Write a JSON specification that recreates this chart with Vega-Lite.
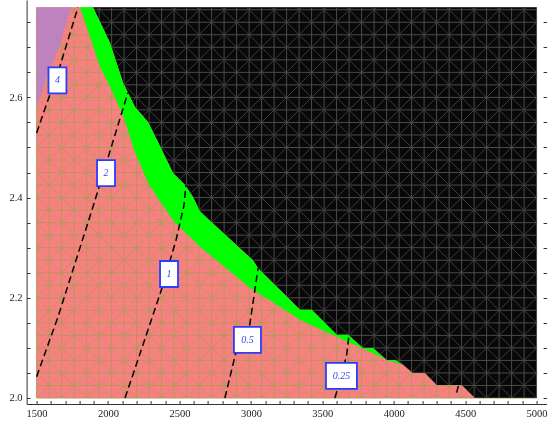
{
  "$schema": "https://vega.github.io/schema/vega-lite/v6.json",
  "width": 520,
  "height": 404,
  "autosize": "none",
  "padding": {"left": 26.6, "top": 0, "right": 2.4, "bottom": 20},
  "background": "white",
  "config": {
    "view": {"stroke": null},
    "axis": {
      "domainColor": "#333333",
      "domainWidth": 1,
      "tickColor": "#333333",
      "tickWidth": 1,
      "tickSize": -3.5,
      "labelFont": "Liberation Serif",
      "labelFontSize": 10.5,
      "labelColor": "#222222",
      "grid": false,
      "labelOverlap": false,
      "labelFlush": false
    }
  },
  "resolve": {"axis": {"y": "independent"}},
  "datasets": {
    "one": [{"k": 1}],
    "meshX": [{"x":1500},{"x":1587.5},{"x":1675},{"x":1762.5},{"x":1850},{"x":1937.5},{"x":2025},{"x":2112.5},{"x":2200},{"x":2287.5},{"x":2375},{"x":2462.5},{"x":2550},{"x":2637.5},{"x":2725},{"x":2812.5},{"x":2900},{"x":2987.5},{"x":3075},{"x":3162.5},{"x":3250},{"x":3337.5},{"x":3425},{"x":3512.5},{"x":3600},{"x":3687.5},{"x":3775},{"x":3862.5},{"x":3950},{"x":4037.5},{"x":4125},{"x":4212.5},{"x":4300},{"x":4387.5},{"x":4475},{"x":4562.5},{"x":4650},{"x":4737.5},{"x":4825},{"x":4912.5},{"x":5000}],
    "meshY": [{"y":2.0},{"y":2.025},{"y":2.05},{"y":2.075},{"y":2.1},{"y":2.125},{"y":2.15},{"y":2.175},{"y":2.2},{"y":2.225},{"y":2.25},{"y":2.275},{"y":2.3},{"y":2.325},{"y":2.35},{"y":2.375},{"y":2.4},{"y":2.425},{"y":2.45},{"y":2.475},{"y":2.5},{"y":2.525},{"y":2.55},{"y":2.575},{"y":2.6},{"y":2.625},{"y":2.65},{"y":2.675},{"y":2.7},{"y":2.725},{"y":2.75},{"y":2.775}],
    "meshD": [
      {"x":1500,"y":2.75,"x2":1605,"y2":2.78},{"x":1500,"y":2.7,"x2":1780,"y2":2.78},{"x":1500,"y":2.65,"x2":1955,"y2":2.78},{"x":1500,"y":2.6,"x2":2130,"y2":2.78},{"x":1500,"y":2.55,"x2":2305,"y2":2.78},{"x":1500,"y":2.5,"x2":2480,"y2":2.78},{"x":1500,"y":2.45,"x2":2655,"y2":2.78},{"x":1500,"y":2.4,"x2":2830,"y2":2.78},{"x":1500,"y":2.35,"x2":3005,"y2":2.78},{"x":1500,"y":2.3,"x2":3180,"y2":2.78},{"x":1500,"y":2.25,"x2":3355,"y2":2.78},{"x":1500,"y":2.2,"x2":3530,"y2":2.78},{"x":1500,"y":2.15,"x2":3705,"y2":2.78},{"x":1500,"y":2.1,"x2":3880,"y2":2.78},{"x":1500,"y":2.05,"x2":4055,"y2":2.78},
      {"x":1500,"y":2.0,"x2":4230,"y2":2.78},{"x":1675,"y":2.0,"x2":4405,"y2":2.78},{"x":1850,"y":2.0,"x2":4580,"y2":2.78},{"x":2025,"y":2.0,"x2":4755,"y2":2.78},{"x":2200,"y":2.0,"x2":4930,"y2":2.78},
      {"x":2375,"y":2.0,"x2":5000,"y2":2.75},{"x":2550,"y":2.0,"x2":5000,"y2":2.7},{"x":2725,"y":2.0,"x2":5000,"y2":2.65},{"x":2900,"y":2.0,"x2":5000,"y2":2.6},{"x":3075,"y":2.0,"x2":5000,"y2":2.55},{"x":3250,"y":2.0,"x2":5000,"y2":2.5},{"x":3425,"y":2.0,"x2":5000,"y2":2.45},{"x":3600,"y":2.0,"x2":5000,"y2":2.4},{"x":3775,"y":2.0,"x2":5000,"y2":2.35},{"x":3950,"y":2.0,"x2":5000,"y2":2.3},{"x":4125,"y":2.0,"x2":5000,"y2":2.25},{"x":4300,"y":2.0,"x2":5000,"y2":2.2},{"x":4475,"y":2.0,"x2":5000,"y2":2.15},{"x":4650,"y":2.0,"x2":5000,"y2":2.1},{"x":4825,"y":2.0,"x2":5000,"y2":2.05},
      {"x":1500,"y":2.05,"x2":1675,"y2":2.0},{"x":1500,"y":2.1,"x2":1850,"y2":2.0},{"x":1500,"y":2.15,"x2":2025,"y2":2.0},{"x":1500,"y":2.2,"x2":2200,"y2":2.0},{"x":1500,"y":2.25,"x2":2375,"y2":2.0},{"x":1500,"y":2.3,"x2":2550,"y2":2.0},{"x":1500,"y":2.35,"x2":2725,"y2":2.0},{"x":1500,"y":2.4,"x2":2900,"y2":2.0},{"x":1500,"y":2.45,"x2":3075,"y2":2.0},{"x":1500,"y":2.5,"x2":3250,"y2":2.0},{"x":1500,"y":2.55,"x2":3425,"y2":2.0},{"x":1500,"y":2.6,"x2":3600,"y2":2.0},{"x":1500,"y":2.65,"x2":3775,"y2":2.0},{"x":1500,"y":2.7,"x2":3950,"y2":2.0},{"x":1500,"y":2.75,"x2":4125,"y2":2.0},
      {"x":1570,"y":2.78,"x2":4300,"y2":2.0},{"x":1745,"y":2.78,"x2":4475,"y2":2.0},{"x":1920,"y":2.78,"x2":4650,"y2":2.0},{"x":2095,"y":2.78,"x2":4825,"y2":2.0},{"x":2270,"y":2.78,"x2":5000,"y2":2.0},
      {"x":2445,"y":2.78,"x2":5000,"y2":2.05},{"x":2620,"y":2.78,"x2":5000,"y2":2.1},{"x":2795,"y":2.78,"x2":5000,"y2":2.15},{"x":2970,"y":2.78,"x2":5000,"y2":2.2},{"x":3145,"y":2.78,"x2":5000,"y2":2.25},{"x":3320,"y":2.78,"x2":5000,"y2":2.3},{"x":3495,"y":2.78,"x2":5000,"y2":2.35},{"x":3670,"y":2.78,"x2":5000,"y2":2.4},{"x":3845,"y":2.78,"x2":5000,"y2":2.45},{"x":4020,"y":2.78,"x2":5000,"y2":2.5},{"x":4195,"y":2.78,"x2":5000,"y2":2.55},{"x":4370,"y":2.78,"x2":5000,"y2":2.6},{"x":4545,"y":2.78,"x2":5000,"y2":2.65},{"x":4720,"y":2.78,"x2":5000,"y2":2.7},{"x":4895,"y":2.78,"x2":5000,"y2":2.75}
    ],
    "black": [{"x":1895,"y":2.78},{"x":2014,"y":2.709},{"x":2105,"y":2.629},{"x":2189,"y":2.581},{"x":2280,"y":2.551},{"x":2343,"y":2.515},{"x":2455,"y":2.449},{"x":2539,"y":2.425},{"x":2595,"y":2.401},{"x":2644,"y":2.372},{"x":3015,"y":2.275},{"x":3050,"y":2.259},{"x":3344,"y":2.176},{"x":3426,"y":2.176},{"x":3601,"y":2.126},{"x":3680,"y":2.126},{"x":3785,"y":2.1},{"x":3855,"y":2.1},{"x":3951,"y":2.076},{"x":4010,"y":2.076},{"x":4067,"y":2.066},{"x":4135,"y":2.05},{"x":4219,"y":2.05},{"x":4301,"y":2.026},{"x":4476,"y":2.026},{"x":4569,"y":2.0},{"x":5000,"y":2.0}],
    "green": [{"x":1804,"lo":2.78,"hi":2.78},{"x":1895,"lo":2.703,"hi":2.78},{"x":1944,"lo":2.661,"hi":2.751},{"x":2014,"lo":2.621,"hi":2.709},{"x":2105,"lo":2.565,"hi":2.629},{"x":2189,"lo":2.49,"hi":2.581},{"x":2280,"lo":2.43,"hi":2.551},{"x":2343,"lo":2.401,"hi":2.515},{"x":2455,"lo":2.355,"hi":2.449},{"x":2539,"lo":2.331,"hi":2.425},{"x":2595,"lo":2.316,"hi":2.401},{"x":2644,"lo":2.302,"hi":2.372},{"x":2994,"lo":2.22,"hi":2.28},{"x":3015,"lo":2.216,"hi":2.275},{"x":3050,"lo":2.21,"hi":2.259},{"x":3344,"lo":2.156,"hi":2.176},{"x":3426,"lo":2.145,"hi":2.176},{"x":3601,"lo":2.122,"hi":2.126},{"x":3680,"lo":2.112,"hi":2.126},{"x":3785,"lo":2.099,"hi":2.1},{"x":3855,"lo":2.09,"hi":2.1},{"x":3951,"lo":2.076,"hi":2.076},{"x":4010,"lo":2.071,"hi":2.076},{"x":4067,"lo":2.066,"hi":2.066}],
    "purple": [{"x":1500,"y":2.581},{"x":1587,"y":2.6547},{"x":1664,"y":2.7066},{"x":1741,"y":2.78}],
    "contours": [
      {"c":"4","x":1500,"y":2.529},{"c":"4","x":1580,"y":2.595},{"c":"4","x":1664,"y":2.663},{"c":"4","x":1790,"y":2.78},
      {"c":"2","x":1500,"y":2.0425},{"c":"2","x":1650,"y":2.162},{"c":"2","x":1895,"y":2.382},{"c":"2","x":2140,"y":2.61},
      {"c":"1","x":2119,"y":2.0},{"c":"1","x":2280,"y":2.136},{"c":"1","x":2378,"y":2.22},{"c":"1","x":2476,"y":2.315},{"c":"1","x":2532,"y":2.385},{"c":"1","x":2545,"y":2.425},
      {"c":"0.5","x":2818,"y":2.0},{"c":"0.5","x":2895,"y":2.091},{"c":"0.5","x":2992,"y":2.146},{"c":"0.5","x":3050,"y":2.259},
      {"c":"0.25","x":3588,"y":2.0},{"c":"0.25","x":3634,"y":2.044},{"c":"0.25","x":3670,"y":2.086},{"c":"0.25","x":3687,"y":2.126},
      {"c":"0.125","x":4441,"y":2.0106},{"c":"0.125","x":4452,"y":2.024}
    ],
    "labels": [
      {"label":"4","x":1646,"y":2.634},
      {"label":"2","x":1986,"y":2.449},
      {"label":"1","x":2427,"y":2.2475},
      {"label":"0.5","x":2976,"y":2.116},
      {"label":"0.25","x":3634,"y":2.044}
    ]
  },
  "layer": [
    {
      "data": {"name": "one"},
      "mark": {"type": "rect", "color": "#f98080"},
      "encoding": {
        "x": {"datum": 1500, "type": "quantitative", "scale": {"domain": [1430, 5070], "nice": false, "zero": false},
              "axis": {"title": null, "tickCount": 1000, "values": [1500,1600,1700,1800,1900,2000,2100,2200,2300,2400,2500,2600,2700,2800,2900,3000,3100,3200,3300,3400,3500,3600,3700,3800,3900,4000,4100,4200,4300,4400,4500,4600,4700,4800,4900,5000],
                       "format": "d", "labelExpr": "datum.value % 500 === 0 ? datum.label : ''", "labelPadding": 8}},
        "x2": {"datum": 5000},
        "y": {"datum": 2.0, "type": "quantitative", "scale": {"domain": [1.988, 2.7944], "nice": false, "zero": false},
              "axis": {"orient": "right", "title": null, "labels": false, "tickCount": 1000, "values": [2.0,2.05,2.1,2.15,2.2,2.25,2.3,2.35,2.4,2.45,2.5,2.55,2.6,2.65,2.7,2.75], "domain": false}},
        "y2": {"datum": 2.78}
      }
    },
    {
      "data": {"name": "meshX"},
      "mark": {"type": "rule", "color": "#b8965f", "strokeWidth": 1},
      "encoding": {
        "x": {"field": "x", "type": "quantitative"},
        "y": {"datum": 2.0, "type": "quantitative", "axis": null},
        "y2": {"datum": 2.78}
      }
    },
    {
      "data": {"name": "meshY"},
      "mark": {"type": "rule", "color": "#b8965f", "strokeWidth": 1},
      "encoding": {
        "y": {"field": "y", "type": "quantitative", "axis": null},
        "x": {"datum": 1500, "type": "quantitative"},
        "x2": {"datum": 5000}
      }
    },
    {
      "data": {"name": "meshD"},
      "mark": {"type": "rule", "color": "#b8965f", "strokeWidth": 1},
      "encoding": {
        "x": {"field": "x", "type": "quantitative"},
        "y": {"field": "y", "type": "quantitative", "axis": null},
        "x2": {"field": "x2"},
        "y2": {"field": "y2"}
      }
    },
    {
      "data": {"name": "black"},
      "mark": {"type": "area", "color": "#080808", "interpolate": "linear"},
      "encoding": {
        "x": {"field": "x", "type": "quantitative"},
        "y": {"field": "y", "type": "quantitative",
              "axis": {"orient": "left", "title": null, "tickCount": 1000, "values": [2.0,2.05,2.1,2.15,2.2,2.25,2.3,2.35,2.4,2.45,2.5,2.55,2.6,2.65,2.7,2.75],
                       "format": ".1f", "labelExpr": "round(datum.value*100) % 20 === 0 ? datum.label : ''", "labelPadding": 8}},
        "y2": {"datum": 2.78}
      }
    },
    {
      "data": {"name": "meshX"},
      "mark": {"type": "rule", "color": "#4b4b4b", "strokeWidth": 1, "blend": "lighten"},
      "encoding": {
        "x": {"field": "x", "type": "quantitative"},
        "y": {"datum": 2.0, "type": "quantitative", "axis": null},
        "y2": {"datum": 2.78}
      }
    },
    {
      "data": {"name": "meshY"},
      "mark": {"type": "rule", "color": "#4b4b4b", "strokeWidth": 1, "blend": "lighten"},
      "encoding": {
        "y": {"field": "y", "type": "quantitative", "axis": null},
        "x": {"datum": 1500, "type": "quantitative"},
        "x2": {"datum": 5000}
      }
    },
    {
      "data": {"name": "meshD"},
      "mark": {"type": "rule", "color": "#3e3e3e", "strokeWidth": 1, "blend": "lighten"},
      "encoding": {
        "x": {"field": "x", "type": "quantitative"},
        "y": {"field": "y", "type": "quantitative", "axis": null},
        "x2": {"field": "x2"},
        "y2": {"field": "y2"}
      }
    },
    {
      "data": {"name": "green"},
      "mark": {"type": "area", "color": "#00ff00"},
      "encoding": {
        "x": {"field": "x", "type": "quantitative"},
        "y": {"field": "lo", "type": "quantitative", "axis": null},
        "y2": {"field": "hi"}
      }
    },
    {
      "data": {"name": "purple"},
      "mark": {"type": "area", "color": "#be82be"},
      "encoding": {
        "x": {"field": "x", "type": "quantitative"},
        "y": {"field": "y", "type": "quantitative", "axis": null},
        "y2": {"datum": 2.78}
      }
    },
    {
      "data": {"name": "contours"},
      "mark": {"type": "line", "color": "black", "strokeWidth": 1.5, "strokeDash": [7, 4]},
      "encoding": {
        "x": {"field": "x", "type": "quantitative"},
        "y": {"field": "y", "type": "quantitative", "axis": null},
        "detail": {"field": "c", "type": "nominal"}
      }
    },
    {
      "data": {"name": "labels"},
      "mark": {"type": "point", "filled": true, "color": "white", "stroke": "#2b3cff", "strokeWidth": 1.8, "opacity": 1, "size": 676},
      "encoding": {
        "x": {"field": "x", "type": "quantitative"},
        "y": {"field": "y", "type": "quantitative", "axis": null},
        "shape": {"field": "label", "type": "nominal", "legend": null,
                  "scale": {"domain": ["4","2","1","0.5","0.25"],
                            "range": ["M-0.69,-1H0.69V1H-0.69Z","M-0.69,-1H0.69V1H-0.69Z","M-0.69,-1H0.69V1H-0.69Z","M-1.04,-1H1.04V1H-1.04Z","M-1.19,-1H1.19V1H-1.19Z"]}}
      }
    },
    {
      "data": {"name": "labels"},
      "mark": {"type": "text", "font": "Liberation Serif", "fontStyle": "italic", "fontSize": 10, "color": "#3a46e6", "align": "center", "baseline": "middle"},
      "encoding": {
        "x": {"field": "x", "type": "quantitative"},
        "y": {"field": "y", "type": "quantitative", "axis": null},
        "text": {"field": "label", "type": "nominal"}
      }
    }
  ]
}
